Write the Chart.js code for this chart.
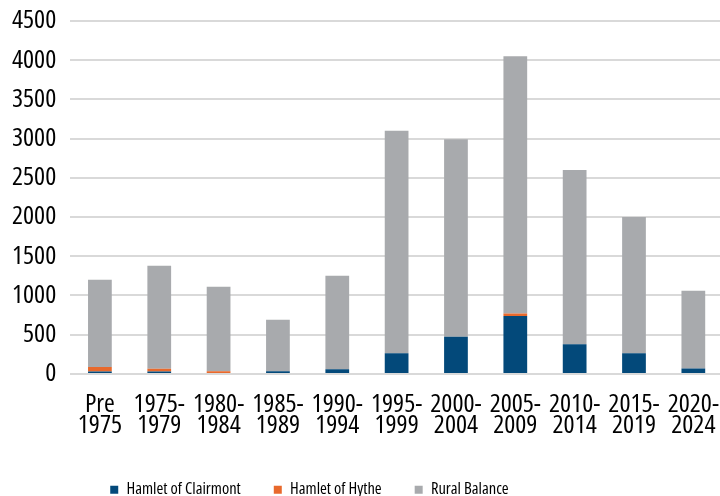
<!DOCTYPE html>
<html>
<head>
<meta charset="utf-8">
<script src="https://cdn.jsdelivr.net/npm/chart.js@4"></script>
<style>
  html, body { margin: 0; padding: 0; background: #fff; overflow: hidden; }
  #wrap { width: 732px; height: 496px; }
</style>
</head>
<body>
<div id="wrap"><canvas id="permitsChart"></canvas></div>
<script>
const periods = [
    ['Pre', '1975'], ['1975-', '1979'], ['1980-', '1984'], ['1985-', '1989'],
    ['1990-', '1994'], ['1995-', '1999'], ['2000-', '2004'], ['2005-', '2009'],
    ['2010-', '2014'], ['2015-', '2019'], ['2020-', '2024']
];
const clairmont = [30, 30, 0, 35, 60, 265, 475, 740, 380, 265, 70];
const hythe = [60, 35, 35, 0, 0, 0, 0, 30, 0, 0, 0];
const ruralBalance = [1110, 1315, 1075, 655, 1190, 2835, 2515, 3280, 2220, 1735, 990];
const yTicks = [0, 500, 1000, 1500, 2000, 2500, 3000, 3500, 4000, 4500];

// "condensed" goes in through weight so the canvas font string picks the narrow width
const fontFamily = '"Open Sans", sans-serif';
const narrow = 'condensed';

// nudge the legend a little to the right, the way the original sits
const legendShift = {
    id: 'legendShift',
    afterLayout(chart) {
        if (chart.legend) {
            chart.legend.left += 7;
            chart.legend.right += 7;
        }
    }
};

document.addEventListener('DOMContentLoaded', function () {
    const ctx = document.getElementById('permitsChart').getContext('2d');

    new Chart(ctx, {
        type: 'bar',
        data: {
            labels: periods,
            datasets: [
                { label: 'Hamlet of Clairmont', data: clairmont, backgroundColor: '#03497a' },
                { label: 'Hamlet of Hythe', data: hythe, backgroundColor: '#e8692c' },
                { label: 'Rural Balance', data: ruralBalance, backgroundColor: '#a8aaad' }
            ]
        },
        plugins: [legendShift],
        options: {
            responsive: true,
            maintainAspectRatio: false,
            animation: false,
            layout: { padding: { top: 0, left: -2, right: 0, bottom: -12 } },
            datasets: {
                bar: { categoryPercentage: 0.8, barPercentage: 0.5 }
            },
            plugins: {
                tooltip: { enabled: false },
                legend: {
                    position: 'bottom',
                    align: 'start',
                    fullSize: false,
                    labels: {
                        boxWidth: 8,
                        boxHeight: 8,
                        padding: 33,
                        color: '#000',
                        font: { family: fontFamily, weight: narrow, size: 16.5 }
                    }
                }
            },
            scales: {
                x: {
                    stacked: true,
                    grid: { display: false },
                    border: { display: false },
                    ticks: {
                        color: '#000',
                        maxRotation: 0,
                        autoSkip: false,
                        padding: 13,
                        font: { family: fontFamily, weight: narrow, size: 26, lineHeight: 0.78 }
                    }
                },
                y: {
                    stacked: true,
                    min: 0,
                    max: 4500,
                    afterBuildTicks: function (axis) {
                        axis.ticks = yTicks.map(v => ({ value: v }));
                    },
                    grid: { color: '#d9d9d9', lineWidth: 2, drawTicks: false },
                    border: { display: false },
                    ticks: {
                        color: '#000',
                        padding: 14,
                        callback: v => String(v),
                        font: { family: fontFamily, weight: narrow, size: 26, lineHeight: 0.53 }
                    }
                }
            }
        }
    });
});
</script>
</body>
</html>
